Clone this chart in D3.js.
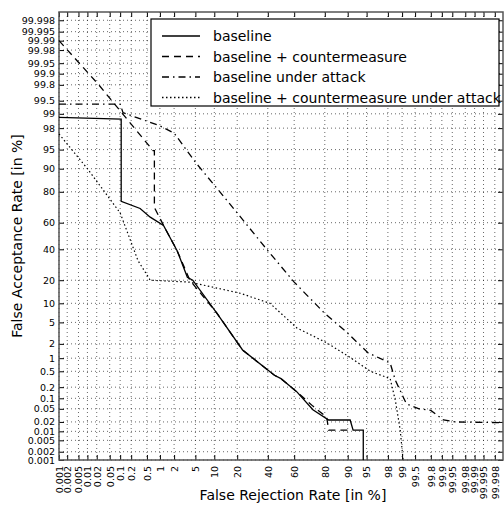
<!DOCTYPE html>
<html><head><meta charset="utf-8">
<script src="https://cdn.jsdelivr.net/npm/d3@7"></script>
<style>body{margin:0;background:#fff}text{font-family:"DejaVu Sans",sans-serif}</style>
</head><body><svg width="504" height="510"></svg>
<script>
var tickLabels = [0.001,0.002,0.005,0.01,0.02,0.05,0.1,0.2,0.5,1,2,5,10,20,40,60,80,90,95,98,99,99.5,99.8,99.9,99.95,99.98,99.99,99.995,99.998];

var baselineX = [0.001,0.107,0.107,0.34,0.6,1.2,2.3,3.6,4.5,11,23,45,50,62,73,82,90.8,91.7,94.3,94.3];
var baselineY = [98.8,98.7,74.5,70,64,58,39,21.6,20,7,1.5,0.4,0.33,0.15,0.047,0.023,0.023,0.011,0.011,0.001];

var counterX = [0.001,0.022,0.11,0.7,0.75,0.75,1.2,2.3,4,11,23,45,50,62,73,81,82,91.5];
var counterY = [99.99,99.81,99.06,94.8,94.8,70.7,58,39,20,7,1.5,0.4,0.33,0.15,0.06,0.028,0.011,0.011];

var attackX = [0.001,0.1,0.12,1,2,5,20,40,60,80,89.5,95.3,98.2,98.6,99.2,99.6,99.8,99.91,99.96,99.999];
var attackY = [99.4,99.4,99.06,98.2,97.5,92,67,39,19,7,3.4,1.3,0.78,0.3,0.07,0.05,0.045,0.023,0.02,0.019];

var bothX = [0.001,0.01,0.1,0.3,0.6,4,21.6,41.6,62,81,90.8,95.7,98.2,98.6,98.9,99.05];
var bothY = [97.4,90,67,32,20,19,13.8,10,4,2.1,1.04,0.5,0.33,0.087,0.011,0.001];

var names = ["baseline","baseline + countermeasure","baseline under attack","baseline + countermeasure under attack"];
var dashes = [null,"7,5","7,4,1.5,4","1.5,2.5"];

// inverse normal cdf (Acklam)
function probit(p){
  var a=[-39.69683028665376,220.9460984245205,-275.9285104469687,138.357751867269,-30.66479806614716,2.506628277459239],
      b=[-54.47609879822406,161.5858368580409,-155.6989798598866,66.80131188771972,-13.28068155288572],
      c=[-0.007784894002430293,-0.3223964580411365,-2.400758277161838,-2.549732539343734,4.374664141464968,2.938163982698783],
      d=[0.007784695709041462,0.3224671290700398,2.445134137142996,3.754408661907416],q,r;
  if(p<0.02425){q=Math.sqrt(-2*Math.log(p));return (((((c[0]*q+c[1])*q+c[2])*q+c[3])*q+c[4])*q+c[5])/((((d[0]*q+d[1])*q+d[2])*q+d[3])*q+1);}
  if(p>1-0.02425){q=Math.sqrt(-2*Math.log(1-p));return -(((((c[0]*q+c[1])*q+c[2])*q+c[3])*q+c[4])*q+c[5])/((((d[0]*q+d[1])*q+d[2])*q+d[3])*q+1);}
  q=p-0.5;r=q*q;return (((((a[0]*r+a[1])*r+a[2])*r+a[3])*r+a[4])*r+a[5])*q/(((((b[0]*r+b[1])*r+b[2])*r+b[3])*r+b[4])*r+1);
}
function pr(v){return probit(v/100);}

var svg = d3.select("svg"),
  L=59, R=503, T=12, B=460;
var lim = probit(0.99999);
var x = d3.scaleLinear().domain([-lim,lim]).range([L,R]),
    y = d3.scaleLinear().domain([-lim,lim]).range([B,T]);

// grid
var g = svg.append("g");
tickLabels.forEach(function(t){
  g.append("line").attr("x1",x(pr(t))).attr("x2",x(pr(t))).attr("y1",T).attr("y2",B)
    .attr("stroke","#000").attr("stroke-width",0.6).attr("stroke-dasharray","1,3");
  g.append("line").attr("y1",y(pr(t))).attr("y2",y(pr(t))).attr("x1",L).attr("x2",R)
    .attr("stroke","#000").attr("stroke-width",0.6).attr("stroke-dasharray","1,3");
});

// axes
var xa = svg.append("g").attr("transform","translate(0,"+B+")")
  .call(d3.axisBottom(x).tickValues(tickLabels.map(pr)).tickSizeInner(-5).tickSizeOuter(0).tickFormat(function(d,i){return tickLabels[i];}));
xa.selectAll("text").attr("transform","rotate(-90)").attr("text-anchor","end").attr("x",-6).attr("y",0).attr("dy","0.35em").style("font-size","9.5px");
var ya = svg.append("g").attr("transform","translate("+L+",0)")
  .call(d3.axisLeft(y).tickValues(tickLabels.map(pr)).tickSizeInner(-5).tickSizeOuter(0).tickFormat(function(d,i){return tickLabels[i];}));
ya.selectAll("text").attr("x",-4).style("font-size","9.5px");
svg.append("g").attr("transform","translate(0,"+T+")")
  .call(d3.axisTop(x).tickValues(tickLabels.map(pr)).tickSizeInner(-5).tickSizeOuter(0).tickFormat(""));
svg.append("g").attr("transform","translate("+R+",0)")
  .call(d3.axisRight(y).tickValues(tickLabels.map(pr)).tickSizeInner(-5).tickSizeOuter(0).tickFormat(""));
svg.selectAll(".domain").remove();
svg.append("rect").attr("x",L).attr("y",T).attr("width",R-L).attr("height",B-T)
  .attr("fill","none").attr("stroke","#555").attr("stroke-width",1.5);

// curves
var series = [[baselineX,baselineY],[counterX,counterY],[attackX,attackY],[bothX,bothY]];
var line = d3.line().x(function(d){return x(pr(d[0]));}).y(function(d){return y(pr(d[1]));});
series.forEach(function(s,k){
  svg.append("path").datum(s[0].map(function(v,i){return [v,s[1][i]];}))
    .attr("d",line).attr("fill","none").attr("stroke","#000")
    .attr("stroke-width",k==3?1.2:1.3).attr("stroke-dasharray",dashes[k]);
});

// legend
var lg = svg.append("g");
lg.append("rect").attr("x",151).attr("y",19).attr("width",348).attr("height",87)
  .attr("fill","#fff").attr("stroke","#000").attr("stroke-width",1.2);
names.forEach(function(n,i){
  var yy = 36+i*20.5;
  lg.append("line").attr("x1",162).attr("x2",200).attr("y1",yy).attr("y2",yy)
    .attr("stroke","#000").attr("stroke-width",1.3).attr("stroke-dasharray",dashes[i]);
  lg.append("text").attr("x",213).attr("y",yy+5).style("font-size","14px").text(n);
});

// labels
svg.append("text").attr("x",(L+R)/2+12).attr("y",500).attr("text-anchor","middle").style("font-size","14px").text("False Rejection Rate [in %]");
svg.append("text").attr("transform","translate(22,"+((T+B)/2)+")rotate(-90)").attr("text-anchor","middle").style("font-size","14px").text("False Acceptance Rate [in %]");
</script></body></html>
